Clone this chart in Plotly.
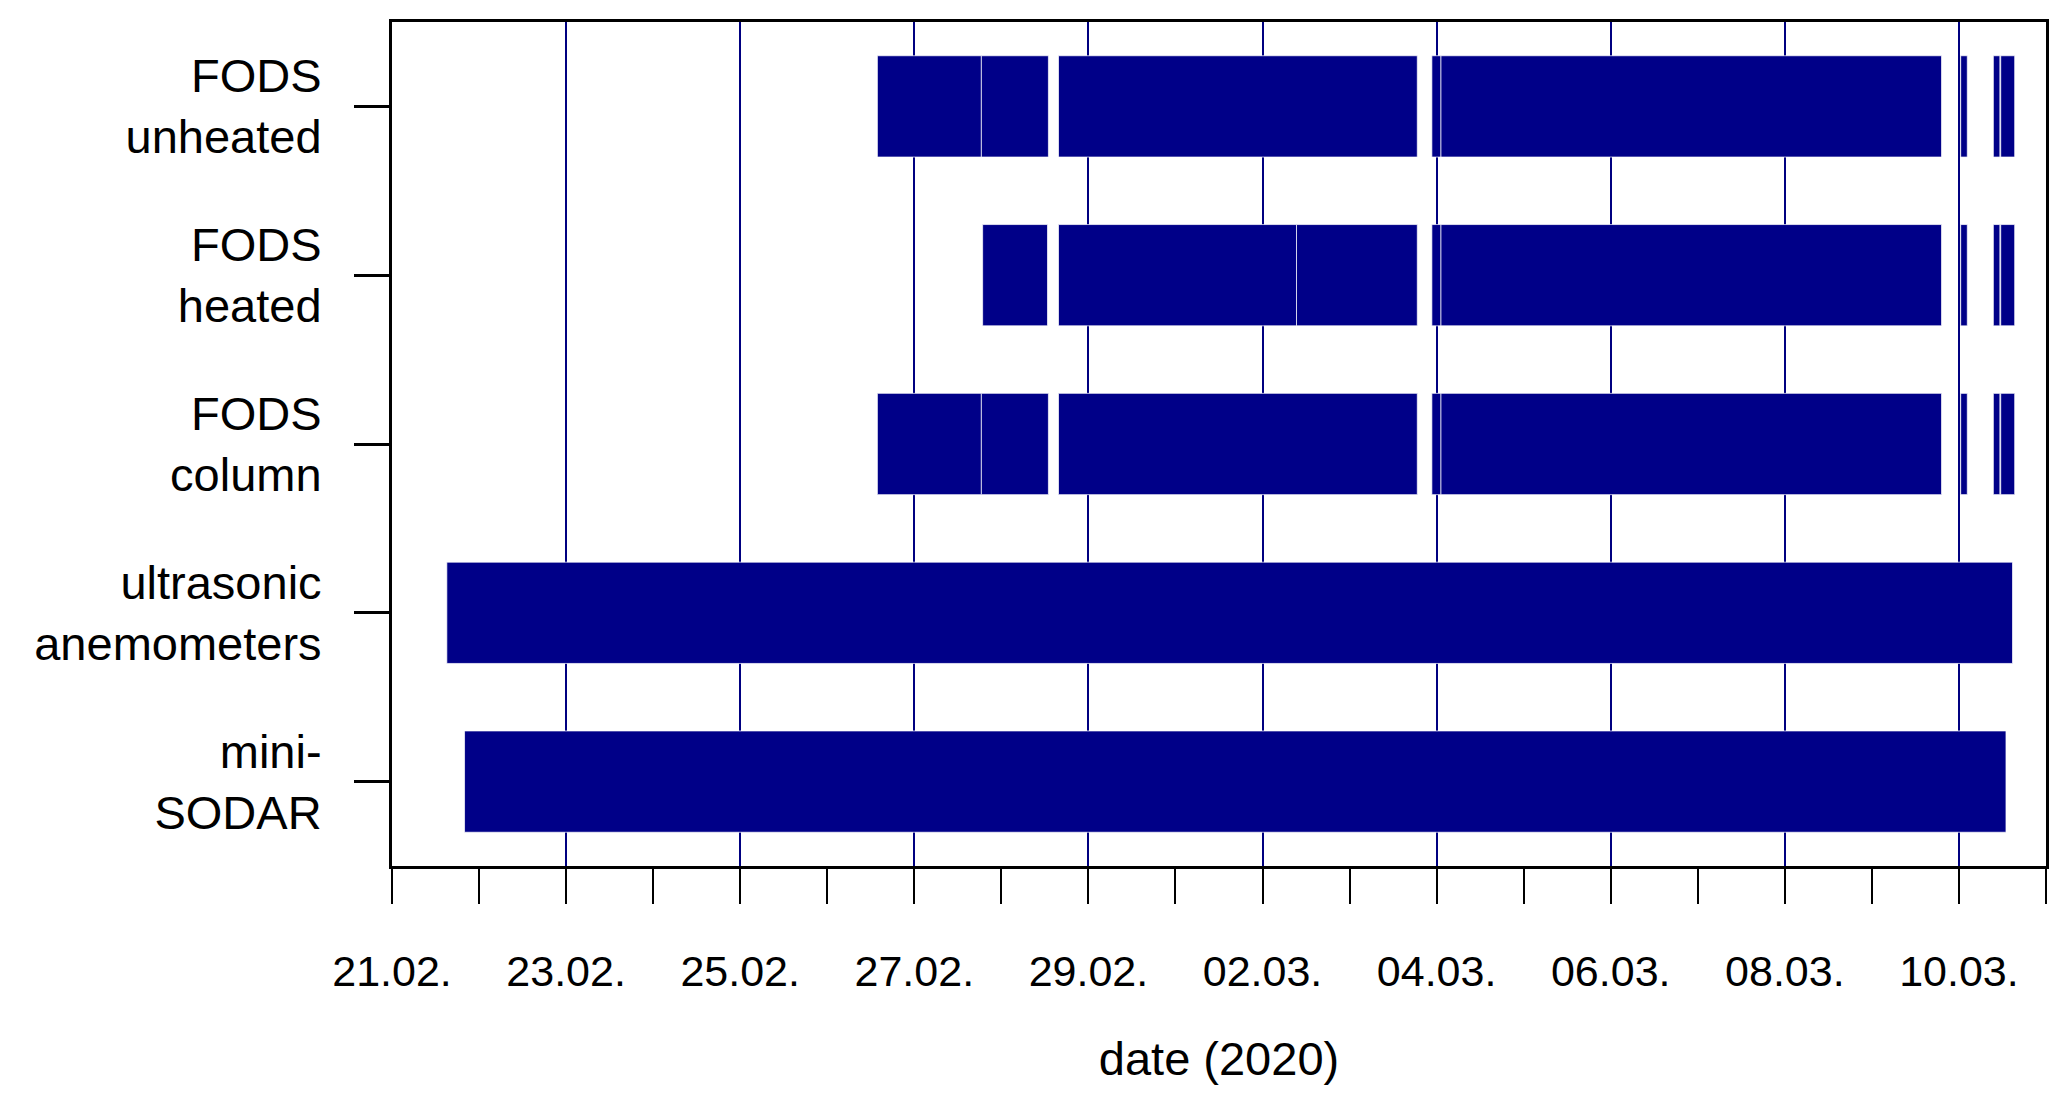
import plotly.graph_objects as go
import pandas as pd

# categories (bottom to top)
instruments = ["mini-<br>SODAR", "ultrasonic<br>anemometers", "FODS<br>column", "FODS<br>heated", "FODS<br>unheated"]

# measurement periods per instrument (start, end)
sodar_start = ["2020-02-21 20:00"]
sodar_end = ["2020-03-10 12:58"]

usa_start = ["2020-02-21 15:07"]
usa_end = ["2020-03-10 14:46"]

fods_unheated_start = ["2020-02-26 13:49", "2020-02-27 18:29", "2020-02-28 15:45", "2020-03-03 22:41",
                       "2020-03-04 01:12", "2020-03-10 00:29", "2020-03-10 09:29", "2020-03-10 11:31"]
fods_unheated_end = ["2020-02-27 18:29", "2020-02-28 12:58", "2020-03-03 18:40", "2020-03-04 01:12",
                     "2020-03-09 19:12", "2020-03-10 02:18", "2020-03-10 11:17", "2020-03-10 15:22"]

fods_heated_start = ["2020-02-27 18:50", "2020-02-28 15:45", "2020-03-02 09:22", "2020-03-03 22:41",
                     "2020-03-04 01:12", "2020-03-10 00:29", "2020-03-10 09:29", "2020-03-10 11:31"]
fods_heated_end = ["2020-02-28 12:43", "2020-03-02 09:22", "2020-03-03 18:40", "2020-03-04 01:12",
                   "2020-03-09 19:12", "2020-03-10 02:18", "2020-03-10 11:17", "2020-03-10 15:22"]

fods_column_start = list(fods_unheated_start)
fods_column_end = list(fods_unheated_end)

periods = [
    (instruments[0], sodar_start, sodar_end),
    (instruments[1], usa_start, usa_end),
    (instruments[2], fods_column_start, fods_column_end),
    (instruments[3], fods_heated_start, fods_heated_end),
    (instruments[4], fods_unheated_start, fods_unheated_end),
]

x_range = ["2020-02-21", "2020-03-11"]

BAR = "#000088"
FONT = "Liberation Sans, Arial, sans-serif"

fig = go.Figure()
for name, starts, ends in periods:
    s = pd.to_datetime(starts)
    e = pd.to_datetime(ends)
    dur = [(b - a).total_seconds() * 1000 for a, b in zip(s, e)]
    fig.add_trace(go.Bar(
        y=[name] * len(starts),
        base=[a.strftime("%Y-%m-%d %H:%M") for a in s],
        x=dur,
        orientation="h",
        width=0.6,
        marker=dict(color=BAR, line=dict(color="rgba(255,255,255,0.7)", width=1)),
        showlegend=False,
    ))

fig.update_layout(
    width=2067, height=1108,
    margin=dict(l=384, r=29, t=11, b=250),
    plot_bgcolor="white", paper_bgcolor="white",
    font=dict(family=FONT, size=45, color="black"),
    barmode="overlay",
    xaxis=dict(
        type="date",
        range=x_range,
        tickmode="linear",
        tick0="2020-02-21",
        dtick=2 * 86400000,
        tickformat="%d.%m.",
        ticks="outside", ticklen=35, tickwidth=2, tickcolor="black",
        showgrid=True, gridcolor="#000080", gridwidth=1.5,
        minor=dict(dtick=86400000, tick0="2020-02-21", ticks="outside", ticklen=35, tickwidth=2,
                   tickcolor="black", showgrid=False),
        showline=True, linecolor="black", linewidth=3, mirror=True,
        ticklabelstandoff=30,
        tickfont=dict(size=43),
        title=dict(text="date (2020)", font=dict(size=47), standoff=49),
        zeroline=False,
    ),
    yaxis=dict(
        type="category",
        categoryorder="array", categoryarray=instruments,
        range=[-0.5, 4.5],
        ticks="outside", ticklen=35, tickwidth=2.5, tickcolor="black",
        showgrid=False,
        showline=True, linecolor="black", linewidth=3, mirror=True,
        ticklabelstandoff=23,
        tickfont=dict(size=47),
    ),
)

fig.write_html("out.html")
